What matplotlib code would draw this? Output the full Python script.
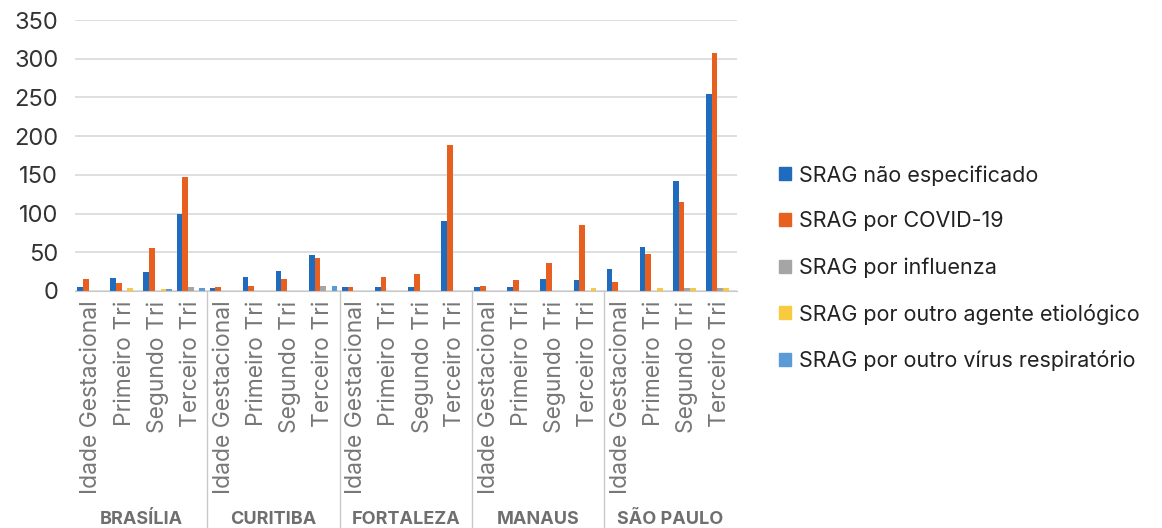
import numpy as np
import matplotlib
matplotlib.use('Agg')
import matplotlib.pyplot as plt
from matplotlib.patches import Patch

plt.rcParams['font.family'] = ['Inter', 'DejaVu Sans']

cidades = ['BRASÍLIA', 'CURITIBA', 'FORTALEZA', 'MANAUS', 'SÃO PAULO']
fases = ['Idade Gestacional', 'Primeiro Tri', 'Segundo Tri', 'Terceiro Tri']
series = ['SRAG não especificado', 'SRAG por COVID-19', 'SRAG por influenza',
          'SRAG por outro agente etiológico', 'SRAG por outro vírus respiratório']
cores = ['#1f6cbf', '#e8601f', '#a5a5a5', '#f9c93f', '#5b9bd5']

# valores por cidade, na ordem de fases
nao_especificado = [5, 17, 24, 100,  4, 18, 26, 47,  5, 5, 5, 90,  5, 5, 15, 14,  28, 57, 142, 255]
covid = [15, 10, 55, 147,  5, 7, 15, 43,  5, 18, 22, 188,  6, 14, 36, 85,  11, 48, 115, 307]
influenza = [0, 0, 0, 5,  0, 0, 0, 6,  0, 0, 0, 0,  0, 0, 0, 0,  0, 0, 4, 4]
outro_agente = [0, 4, 3, 0,  0, 0, 0, 0,  0, 0, 0, 0,  0, 0, 0, 4,  0, 4, 4, 4]
outro_virus = [0, 0, 3, 4,  0, 0, 0, 6,  0, 0, 0, 0,  0, 0, 0, 0,  0, 0, 0, 0]

dados = [nao_especificado, covid, influenza, outro_agente, outro_virus]

fig = plt.figure(figsize=(11.62, 5.28), dpi=100)
ax = fig.add_axes([0.0645, 0.449, 0.5695, 0.513])

n = len(cidades) * len(fases)
x = np.arange(n)
largura = 0.172
for i, (vals, cor, nome) in enumerate(zip(dados, cores, series)):
    ax.bar(x + (i - 2) * largura, vals, largura, color=cor, label=nome)

ax.set_xlim(-0.5, n - 0.5)
ax.set_ylim(0, 350)
ax.set_yticks(range(0, 351, 50))
ax.yaxis.grid(True, color='#d9d9d9', linewidth=1.2)
ax.set_axisbelow(True)
for s in ['top', 'right', 'left']:
    ax.spines[s].set_visible(False)
ax.spines['bottom'].set_color('#c8c8c8')
ax.tick_params(axis='y', length=0, labelsize=17, labelcolor='#333333', pad=12)
ax.tick_params(axis='x', length=0, pad=7)
ax.set_xticks(x)
ax.set_xticklabels(fases * len(cidades), rotation=90, fontsize=16.5, color='#777777')

trans = ax.get_xaxis_transform()
for k in range(1, len(cidades)):
    xs = k * len(fases) - 0.5
    ax.plot([xs, xs], [0, -0.875], transform=trans, color='#c8c8c8', lw=1, clip_on=False)
for k, c in enumerate(cidades):
    ax.text(k * len(fases) + 1.5, -0.845, c, transform=trans, ha='center', va='center',
            fontsize=13, fontweight='bold', color='#6f6f6f')

handles = [Patch(color=c, label=s) for c, s in zip(cores, series)]
fig.legend(handles=handles, loc='center left', bbox_to_anchor=(0.654, 0.492), frameon=False,
           fontsize=15.5, handlelength=0.55, handleheight=0.55, handletextpad=0.35,
           labelspacing=1.2, labelcolor='#222222')

fig.savefig('out.png', dpi=100)
